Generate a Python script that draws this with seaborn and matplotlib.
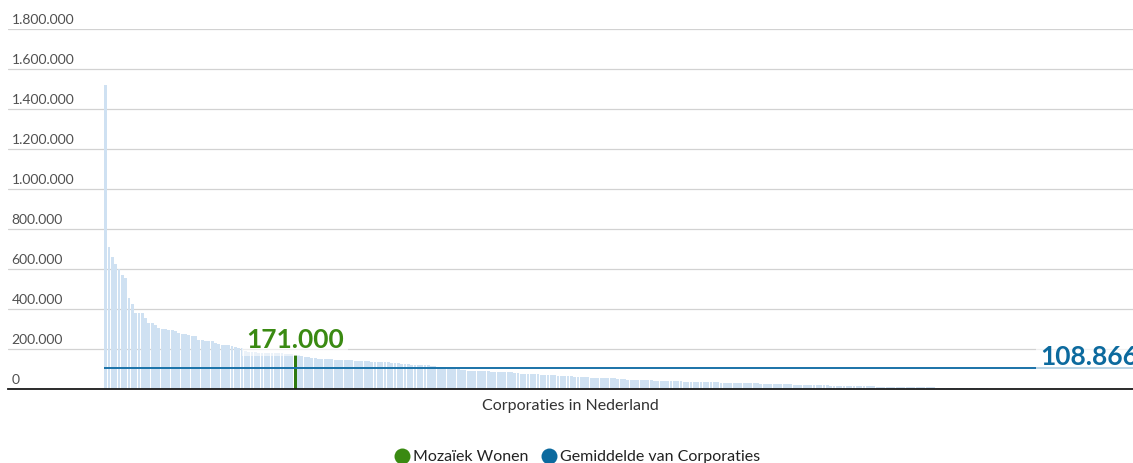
import matplotlib
matplotlib.use("Agg")
import matplotlib.pyplot as plt
from matplotlib.lines import Line2D
from matplotlib.transforms import ScaledTranslation, blended_transform_factory
import pandas as pd
import seaborn as sns

# Waarde per corporatie (x 1.000), gesorteerd van hoog naar laag
waarde_k = [
    1520, 711, 661, 626, 601, 573, 556, 456, 426, 381,
    381, 381, 356, 331, 331, 321, 306, 301, 301, 296,
    296, 291, 281, 278, 275, 271, 266, 266, 248, 246,
    243, 241, 240, 233, 226, 222, 220, 220, 215, 210,
    206, 205, 190, 188, 186, 185, 184, 183, 183, 182,
    181, 181, 180, 180, 179, 177, 175, 171, 170, 166,
    161, 161, 156, 156, 153, 151, 151, 150, 150, 149,
    147, 146, 146, 145, 145, 144, 143, 141, 140, 140,
    139, 137, 136, 136, 135, 135, 134, 134, 131, 127,
    126, 125, 124, 122, 121, 121, 120, 120, 119, 115,
    113, 112, 111, 103, 101, 101, 100, 99, 96, 93,
    92, 92, 91, 91, 90, 90, 89, 89, 87, 86,
    86, 85, 85, 84, 81, 78, 77, 76, 76, 75,
    75, 72, 71, 71, 70, 70, 67, 66, 66, 65,
    65, 62, 61, 61, 60, 60, 57, 57, 56, 56,
    56, 55, 55, 55, 54, 54, 51, 47, 47, 46,
    46, 46, 45, 45, 45, 44, 44, 42, 41, 41,
    41, 40, 40, 40, 39, 37, 37, 36, 36, 36,
    36, 35, 35, 35, 35, 34, 34, 34, 34, 33,
    32, 31, 31, 31, 30, 30, 30, 29, 29, 27,
    27, 26, 26, 26, 25, 25, 25, 24, 24, 24,
    23, 22, 21, 21, 21, 20, 20, 20, 19, 19,
    19, 18, 18, 18, 17, 16, 16, 16, 15, 15,
    15, 15, 14, 14, 14, 13, 13, 13, 12, 12,
    11, 11, 11, 11, 10, 10, 10, 10, 10, 10,
    9, 9, 9, 9, 9, 9, 9, 8, 8, 8,
    8, 8, 8, 7, 7, 7, 0, 0, 0, 0,
    0, 0, 0, 0, 0, 0, 0, 0, 0, 0,
]
mozaiek_positie = 57
gemiddelde = 108866

y_ticks = [0, 200000, 400000, 600000, 800000, 1000000, 1200000, 1400000, 1600000, 1800000]
y_labels = ["0", "200.000", "400.000", "600.000", "800.000", "1.000.000",
            "1.200.000", "1.400.000", "1.600.000", "1.800.000"]
x_titel = "Corporaties in Nederland"
naam_mozaiek = "Mozaïek Wonen"
naam_gemiddelde = "Gemiddelde van Corporaties"

LICHTBLAUW = "#cfe1f2"
GROEN = "#3a8a12"
GROEN_DONKER = "#2e7a0f"
BLAUW = "#0c6a9e"
BLAUW_LIJN = "#1a72a8"


def nl_getal(v):
    return f"{int(v):,}".replace(",", ".")


waarden = [v * 1000 for v in waarde_k]
df = pd.DataFrame({
    "positie": list(range(len(waarden))),
    "waarde": waarden,
    "groep": [naam_mozaiek if i == mozaiek_positie else "overig" for i in range(len(waarden))],
})

sns.set_theme(style="white")
plt.rcParams["font.family"] = ["Lato", "DejaVu Sans"]

W, H = 1133, 463
fig = plt.figure(figsize=(W / 100, H / 100), dpi=100)
ax = fig.add_axes([8 / W, (H - 389.3) / H, 1125 / W, 360 / H])

sns.barplot(
    data=df, x="positie", y="waarde", hue="groep",
    palette={"overig": LICHTBLAUW, naam_mozaiek: GROEN_DONKER},
    dodge=False, width=0.86, errorbar=None, legend=False,
    saturation=1, linewidth=0, ax=ax, zorder=2,
)

x_links, x_rechts = -29.37, 308.9
ax.set_xlim(x_links, x_rechts)
ax.set_ylim(0, 1800000)

# Rasterlijnen en labels boven de lijnen
ax.set_yticks(y_ticks)
ax.set_yticklabels([])
ax.tick_params(axis="both", length=0)
ax.set_xticks([])
ax.yaxis.grid(True, color="#d2d2d2", linewidth=0.9, zorder=0)
ax.set_axisbelow(True)
trans_lbl = blended_transform_factory(ax.transAxes, ax.transData) + \
    ScaledTranslation(0, 5 / 100, fig.dpi_scale_trans)
for t, lab in zip(y_ticks, y_labels):
    ax.text(3.5 / 1125, t, lab, transform=trans_lbl, ha="left", va="baseline",
            fontsize=10, color="#505050", clip_on=False)

for side in ("left", "right", "top"):
    ax.spines[side].set_visible(False)
ax.spines["bottom"].set_color("#1a1a1a")
ax.spines["bottom"].set_linewidth(1.3)
ax.spines["bottom"].set_zorder(5)

ax.set_xlabel(x_titel, fontsize=11.5, color="#333333", labelpad=7)
ax.set_ylabel("")

# Gemiddelde-lijn
ax.hlines(gemiddelde, -0.5, x_rechts, color=BLAUW_LIJN, linewidth=1.4, zorder=4)
ax.text(281, gemiddelde, nl_getal(gemiddelde),
        transform=ax.transData + ScaledTranslation(0, 3 / 100, fig.dpi_scale_trans),
        ha="left", va="baseline", fontsize=19, fontweight="bold", color=BLAUW,
        zorder=6, clip_on=False,
        bbox=dict(boxstyle="square,pad=0.15", facecolor="white", edgecolor="none", alpha=0.7))

# Label Mozaïek Wonen
moz_waarde = waarden[mozaiek_positie]
ax.text(mozaiek_positie, moz_waarde, nl_getal(moz_waarde),
        transform=ax.transData + ScaledTranslation(0, 7 / 100, fig.dpi_scale_trans),
        ha="center", va="baseline", fontsize=19, fontweight="bold", color=GROEN,
        zorder=6,
        bbox=dict(boxstyle="square,pad=0.15", facecolor="white", edgecolor="none", alpha=0.6))

handles = [
    Line2D([], [], marker="o", linestyle="none", markersize=11.5,
           markerfacecolor=GROEN, markeredgecolor="none"),
    Line2D([], [], marker="o", linestyle="none", markersize=11.5,
           markerfacecolor=BLAUW, markeredgecolor="none"),
]
fig.legend(handles, [naam_mozaiek, naam_gemiddelde], loc="center",
           bbox_to_anchor=(577 / W, (H - 457) / H), ncol=2, frameon=False,
           fontsize=11.5, handletextpad=0.2, columnspacing=0.8,
           handlelength=1.0, labelcolor="#222222", borderaxespad=0)

fig.savefig("out.png", dpi=100)
